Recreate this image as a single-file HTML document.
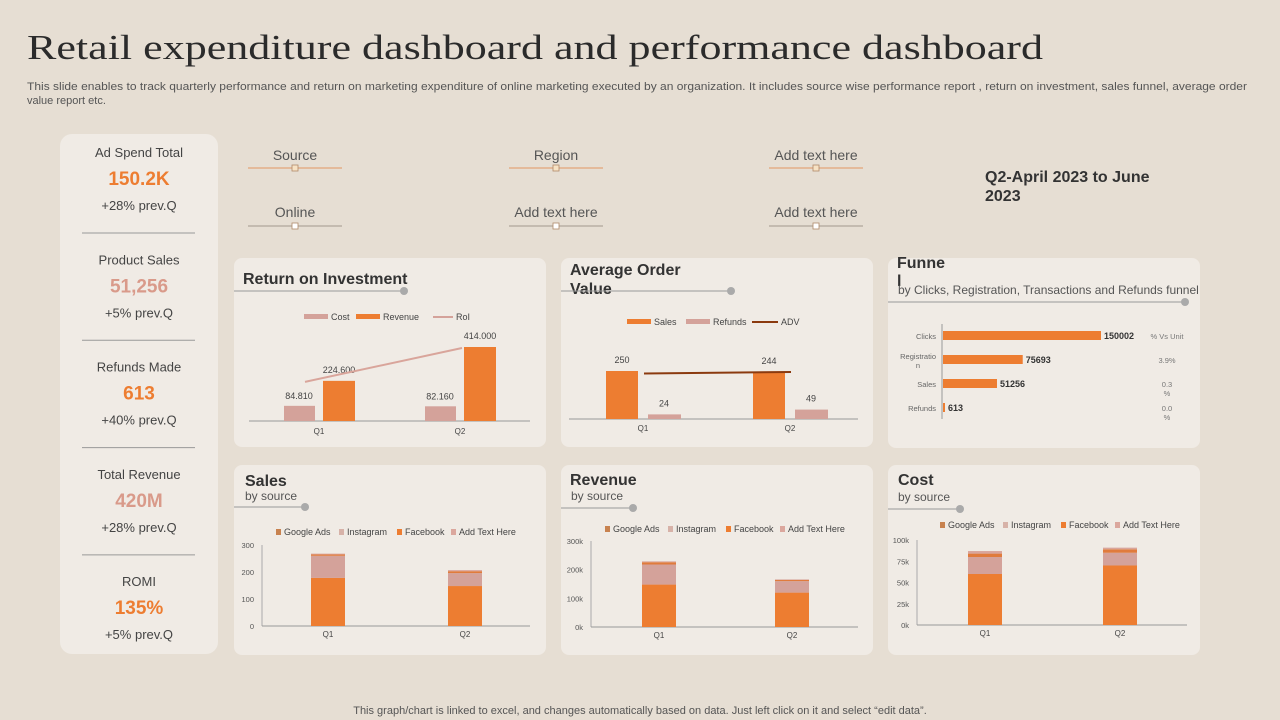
<!DOCTYPE html>
<html><head><meta charset="utf-8"><style>
html,body{margin:0;padding:0;background:#e6ded3;width:1280px;height:720px;overflow:hidden}
svg{display:block;font-family:"Liberation Sans",sans-serif}
</style></head><body>
<svg id="s" width="1280" height="720" viewBox="0 0 1280 720" xmlns="http://www.w3.org/2000/svg">
<rect x="0" y="0" width="1280" height="720" fill="#e6ded3"/>
<text x="27" y="59" font-family="Liberation Serif, serif" font-size="35" fill="#2b2b2b" textLength="1016" lengthAdjust="spacingAndGlyphs">Retail expenditure dashboard and performance dashboard</text>
<text x="27" y="90" font-size="11" fill="#555" textLength="1220" lengthAdjust="spacingAndGlyphs">This slide enables to track quarterly performance and return on marketing expenditure of online marketing executed by an organization. It includes source wise performance report , return on investment, sales funnel, average order</text>
<text x="27" y="104" font-size="11" fill="#555">value report etc.</text>
<text x="640" y="714" font-size="11" fill="#555" text-anchor="middle">This graph/chart is linked to excel,  and changes automatically based on data. Just left click on it and select “edit data”.</text>

<g>
<rect x="60" y="134" width="158" height="520" rx="12" fill="#f0ebe5"/>
</g>
<g id="kpis"></g>
<g id="filters"></g>
<text x="985" y="182" font-size="16" font-weight="bold" fill="#333">Q2-April   2023 to June</text>
<text x="985" y="201" font-size="16" font-weight="bold" fill="#333">2023</text>

<rect x="234" y="258" width="312" height="189" rx="8" fill="#f0ebe5"/>
<rect x="561" y="258" width="312" height="189" rx="8" fill="#f0ebe5"/>
<rect x="888" y="258" width="312" height="190" rx="8" fill="#f0ebe5"/>
<rect x="234" y="465" width="312" height="190" rx="8" fill="#f0ebe5"/>
<rect x="561" y="465" width="312" height="190" rx="8" fill="#f0ebe5"/>
<rect x="888" y="465" width="312" height="190" rx="8" fill="#f0ebe5"/>

<text x="243" y="284" font-size="16" font-weight="bold" fill="#333">Return on Investment</text>
<line x1="234" y1="291" x2="404" y2="291" stroke="#999"/><circle cx="404" cy="291" r="4" fill="#aaa"/>
<text x="570" y="275" font-size="16" font-weight="bold" fill="#333">Average Order</text>
<text x="570" y="294" font-size="16" font-weight="bold" fill="#333">Value</text>
<line x1="561" y1="291" x2="731" y2="291" stroke="#999"/><circle cx="731" cy="291" r="4" fill="#aaa"/>
<text x="897" y="268" font-size="16" font-weight="bold" fill="#333">Funne</text>
<text x="897" y="286" font-size="16" font-weight="bold" fill="#333">l</text>
<text x="898" y="294" font-size="12" fill="#555">by Clicks, Registration, Transactions and Refunds funnel</text>
<line x1="888" y1="302" x2="1185" y2="302" stroke="#999"/><circle cx="1185" cy="302" r="4" fill="#aaa"/>

<text x="245" y="486" font-size="16" font-weight="bold" fill="#333">Sales</text>
<text x="245" y="500" font-size="12" fill="#555">by source</text>
<line x1="234" y1="507" x2="305" y2="507" stroke="#999"/><circle cx="305" cy="507" r="4" fill="#aaa"/>
<text x="570" y="485" font-size="16" font-weight="bold" fill="#333">Revenue</text>
<text x="571" y="500" font-size="12" fill="#555">by source</text>
<line x1="561" y1="508" x2="633" y2="508" stroke="#999"/><circle cx="633" cy="508" r="4" fill="#aaa"/>
<text x="898" y="485" font-size="16" font-weight="bold" fill="#333">Cost</text>
<text x="898" y="501" font-size="12" fill="#555">by source</text>
<line x1="888" y1="509" x2="960" y2="509" stroke="#999"/><circle cx="960" cy="509" r="4" fill="#aaa"/>

<g id="charts"></g>
</svg>
<script>
const NS="http://www.w3.org/2000/svg";
const OR="#ed7d31", PK="#d4a29a", BR="#8b3a0f";
function el(p,tag,a,txt){const e=document.createElementNS(NS,tag);for(const k in a)e.setAttribute(k,a[k]);if(txt!==undefined)e.textContent=txt;p.appendChild(e);return e;}
const C=document.getElementById('charts');

// KPI data
const kpiLabels=["Ad Spend Total","Product Sales","Refunds Made","Total Revenue","ROMI"];
const kpiValues=["150.2K","51,256","613","420M","135%"];
const kpiChanges=["+28% prev.Q","+5% prev.Q","+40% prev.Q","+28% prev.Q","+5% prev.Q"];
const K=document.getElementById('kpis');
kpiLabels.forEach((l,i)=>{const y=157+i*107.3;
 let t=el(K,'text',{x:139,y:y,'font-size':13,fill:'#444','text-anchor':'middle'},l);
 
 
 t=el(K,'text',{x:139,y:y+28,'font-size':19,'font-weight':'bold',fill:i%2?'#d99a8a':OR,'text-anchor':'middle'},kpiValues[i]);
 
 
 t=el(K,'text',{x:139,y:y+53,'font-size':13,fill:'#444','text-anchor':'middle'},kpiChanges[i]);
 
 
 if(i<4){const d=el(K,'line',{x1:82,x2:195,y1:y+76,y2:y+76,stroke:'#999'});}
});

// filters
const filterLabels=["Source","Region","Add text here","Online","Add text here","Add text here"];
const F=document.getElementById('filters');
filterLabels.forEach((l,i)=>{const cx=[295,556,816][i%3], r=Math.floor(i/3), y=r?217:160, ly=r?226:168;
 const t=el(F,'text',{x:cx,y:y,'font-size':14,fill:'#555','text-anchor':'middle'},l);
 
 
 const ln=el(F,'line',{x1:cx-47,x2:cx+47,y1:ly,y2:ly,stroke:r?'#b0a69b':'#e3a477','stroke-width':1.3});
 
 
 const h=el(F,'rect',{x:cx-3,y:ly-3,width:6,height:6,fill:r?'#fff':'#f7e2c4',stroke:'#b08a6a','stroke-width':0.8});
 
 
});

function legend(items,x,y,fs){let cx=x;items.forEach(it=>{
 if(it.line){el(C,'line',{x1:cx,x2:cx+it.w,y1:y-3,y2:y-3,stroke:it.c,'stroke-width':2});}
 else el(C,'rect',{x:cx,y:y-6,width:it.w,height:it.w>10?5:6,fill:it.c});
 const t=el(C,'text',{x:cx+it.w+3,y:y,'font-size':fs,fill:'#444'},it.t);
 
 
 cx+=it.w+3+it.tw;});}

// ROI chart
const roiCats=["Q1","Q2"];
const roiCost=[84.81,82.16];
const roiRevenue=[224.6,414.0];
const roiLine=[224.6,414.0];
{const base=421, yS=v=>base-v*74/414, cx=[319,460];
 el(C,'line',{x1:249,x2:530,y1:base,y2:base,stroke:'#999'});
 legend([{c:PK,w:24,t:'Cost',tw:25},{c:OR,w:24,t:'Revenue',tw:50},{c:PK,w:20,t:'RoI',line:1,tw:20}],304,320,9);
 roiCats.forEach((c,i)=>{
  let b=el(C,'rect',{x:cx[i]-35,y:yS(roiCost[i]),width:31,height:base-yS(roiCost[i]),fill:PK});
  
  b=el(C,'rect',{x:cx[i]+4,y:yS(roiRevenue[i]),width:32,height:base-yS(roiRevenue[i]),fill:OR});
  
  el(C,'text',{x:cx[i]-20,y:yS(roiCost[i])-7,'font-size':9,fill:'#444','text-anchor':'middle'},roiCost[i].toFixed(3));
  el(C,'text',{x:cx[i]+20,y:yS(roiRevenue[i])-8,'font-size':9,fill:'#444','text-anchor':'middle'},roiRevenue[i].toFixed(3));
  el(C,'text',{x:cx[i],y:434,'font-size':8,fill:'#444','text-anchor':'middle'},c);
 });
 const l=el(C,'line',{x1:cx[0]-14,y1:yS(roiLine[0])+1,x2:cx[1]+2,y2:yS(roiLine[1])+1,stroke:'#d9a59b','stroke-width':2});
 
}

// AOV chart
const aovCats=["Q1","Q2"];
const aovSales=[250,244];
const aovRefunds=[24,49];
const aovADV=[237,245];
{const base=419, yS=v=>base-v*48/250, cx=[643,790];
 el(C,'line',{x1:569,x2:858,y1:base,y2:base,stroke:'#999'});
 legend([{c:OR,w:24,t:'Sales',tw:32},{c:PK,w:24,t:'Refunds',tw:39},{c:BR,w:26,t:'ADV',line:1,tw:20}],627,325,9);
 aovCats.forEach((c,i)=>{
  let b=el(C,'rect',{x:cx[i]-37,y:yS(aovSales[i]),width:32,height:base-yS(aovSales[i]),fill:OR});
  
  b=el(C,'rect',{x:cx[i]+5,y:yS(aovRefunds[i]),width:33,height:base-yS(aovRefunds[i]),fill:PK});
  
  el(C,'text',{x:cx[i]-21,y:yS(aovSales[i])-8,'font-size':9,fill:'#444','text-anchor':'middle'},aovSales[i]);
  el(C,'text',{x:cx[i]+21,y:yS(aovRefunds[i])-8,'font-size':9,fill:'#444','text-anchor':'middle'},aovRefunds[i]);
  el(C,'text',{x:cx[i],y:431,'font-size':8,fill:'#444','text-anchor':'middle'},c);
 });
 const l=el(C,'line',{x1:cx[0]+1,y1:yS(aovADV[0]),x2:cx[1]+1,y2:yS(aovADV[1]),stroke:BR,'stroke-width':2});
 
}

// Funnel
const funnelCats=["Clicks","Registratio|n","Sales","Refunds"];
const funnelValues=[150002,75693,51256,613];
const funnelPct=["% Vs Unit","3.9%","0.3|%","0.0|%"];
{const x0=942, xS=v=>v*158/150002;
 el(C,'line',{x1:x0,x2:x0,y1:324,y2:419,stroke:'#999'});
 funnelCats.forEach((c,i)=>{const y=331+i*24;
  const b=el(C,'rect',{x:x0+1,y:y,width:Math.max(2,xS(funnelValues[i])),height:9,fill:OR});
  
  el(C,'text',{x:x0+4+Math.max(2,xS(funnelValues[i])),y:y+8,'font-size':9,'font-weight':'bold',fill:'#333'},funnelValues[i]);
  const p=c.split('|');p.forEach((s,j)=>el(C,'text',{x:936-(j?18:0),y:y+8-(p.length>1?4:0)+j*9,'font-size':7.5,fill:'#666','text-anchor':j?'middle':'end'},s));
  const q=funnelPct[i].split('|');q.forEach((s,j)=>el(C,'text',{x:1167,y:y+8+j*9,'font-size':7.5,fill:'#777','text-anchor':'middle'},s));
 });
}

// stacked charts
const stackCats=["Q1","Q2"];
const salesGoogle=[178,148], salesInstagram=[82,48], salesFacebook=[5,7], salesOther=[3,4];
const salesTicks=["0","100","200","300"];
const revGoogle=[148,120], revInstagram=[70,40], revFacebook=[8,4], revOther=[3,2];
const revTicks=["0k","100k","200k","300k"];
const costGoogle=[60,70], costInstagram=[20,15], costFacebook=[4,4], costOther=[3,2];
const costTicks=["0k","25k","50k","75k","100k"];
const stCols=[OR,PK,"#e07b3c","#d9a59b"];
function stacked(name,series,ticks,max,ax,top,base,right,cx,lx,ly){
 const yS=v=>base-v*(base-top)/max;
 el(C,'line',{x1:ax,x2:ax,y1:top,y2:base,stroke:'#aaa'});
 el(C,'line',{x1:ax,x2:right,y1:base,y2:base,stroke:'#999'});
 ticks.forEach((t,i)=>el(C,'text',{x:ax-8,y:base-i*(base-top)/(ticks.length-1)+3,'font-size':7.5,fill:'#555','text-anchor':'end'},t));
 legend([{c:'#c8824f',w:5,t:'Google Ads',tw:55},{c:'#d7b2a8',w:5,t:'Instagram',tw:50},{c:OR,w:5,t:'Facebook',tw:46},{c:'#dba79d',w:5,t:'Add Text Here',tw:60}],lx,ly,9);
 stackCats.forEach((c,i)=>{let acc=0;series.forEach((s,k)=>{
  const y1=yS(acc+s[i]),y0=yS(acc);acc+=s[i];
  const b=el(C,'rect',{x:cx[i]-17,y:y1,width:34,height:y0-y1,fill:stCols[k]});
  });
  el(C,'text',{x:cx[i],y:base+11,'font-size':8,fill:'#444','text-anchor':'middle'},c);
 });
}
stacked('sales',[salesGoogle,salesInstagram,salesFacebook,salesOther],salesTicks,300,262,545,626,530,[328,465],276,535);
stacked('revenue',[revGoogle,revInstagram,revFacebook,revOther],revTicks,300,591,541,627,858,[659,792],605,532);
stacked('cost',[costGoogle,costInstagram,costFacebook,costOther],costTicks,100,917,540,625,1187,[985,1120],940,528);
</script>
</body></html>
